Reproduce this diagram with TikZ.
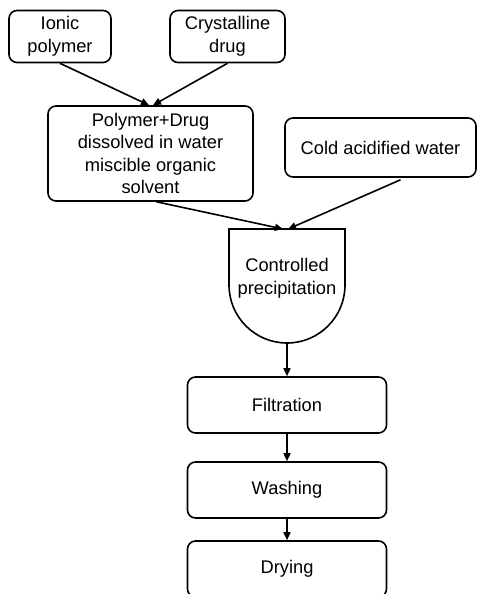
\documentclass[tikz,border=0pt]{standalone}
\usepackage{fontspec}
\setmainfont{Liberation Sans}
\usepackage{tikz}
\usetikzlibrary{calc}
\usetikzlibrary{arrows.meta}
\tikzset{
  stepbox/.style={draw, line width=1.6pt, rounded corners=8pt, align=center},
  flow/.style={-{Triangle[length=8pt,width=7pt]}, line width=1.6pt}
}

\begin{document}
\begin{tikzpicture}[x=1pt, y=1pt, font=\fontsize{18.3}{22.5}\selectfont]
        \useasboundingbox (0,0) rectangle (478,-594);
        % inputs
        \node[stepbox, minimum width=102pt, minimum height=52pt] (ionic) at (60,-36.5) {Ionic\\polymer};
        \node[stepbox, minimum width=115pt, minimum height=52pt] (cryst) at (227.5,-36.5) {Crystalline\\drug};
        \node[stepbox, minimum width=205pt, minimum height=95pt] (mix) at (150.5,-153.5) {Polymer+Drug\\dissolved in water\\miscible organic\\solvent};
        \node[stepbox, minimum width=191pt, minimum height=59pt] (cold) at (380.5,-147.5) {Cold acidified water};
        % precipitation vessel
        \coordinate (ptopl) at (229,-229);
        \coordinate (ptopr) at (345,-229);
        \coordinate (pbot) at (287,-343);
        \draw[line width=1.6pt] (ptopl) -- (ptopr) -- ++(0,-56) arc (0:-180:58) -- cycle;
        \node[align=center] (precip) at (287,-278.5) {Controlled\\precipitation};
        % steps
        \node[stepbox, minimum width=199pt, minimum height=56pt] (filt) at (287,-405) {Filtration};
        \node[stepbox, minimum width=199pt, minimum height=56pt] (wash) at (287,-490) {Washing};
        \node[stepbox, minimum width=199pt, minimum height=56pt] (dry) at (287,-569) {Drying};
        % arrows
        \draw[flow] (ionic.south) -- ($(mix.north)+(-1.5,0)$);
        \draw[flow] (cryst.south) -- ($(mix.north)+(2.5,0)$);
        \draw[flow] ($(mix.south)+(6,0)$) -- ($(ptopl)!0.465!(ptopr)$);
        \draw[flow] ($(cold.south)+(20,-2)$) -- ($(ptopl)!0.51!(ptopr)$);
        \draw[flow] (pbot) -- (pbot |- filt.north);
        \draw[flow] (filt.south) -- (wash.north);
        \draw[flow] (wash.south) -- (dry.north);
    \end{tikzpicture}
\end{document}
